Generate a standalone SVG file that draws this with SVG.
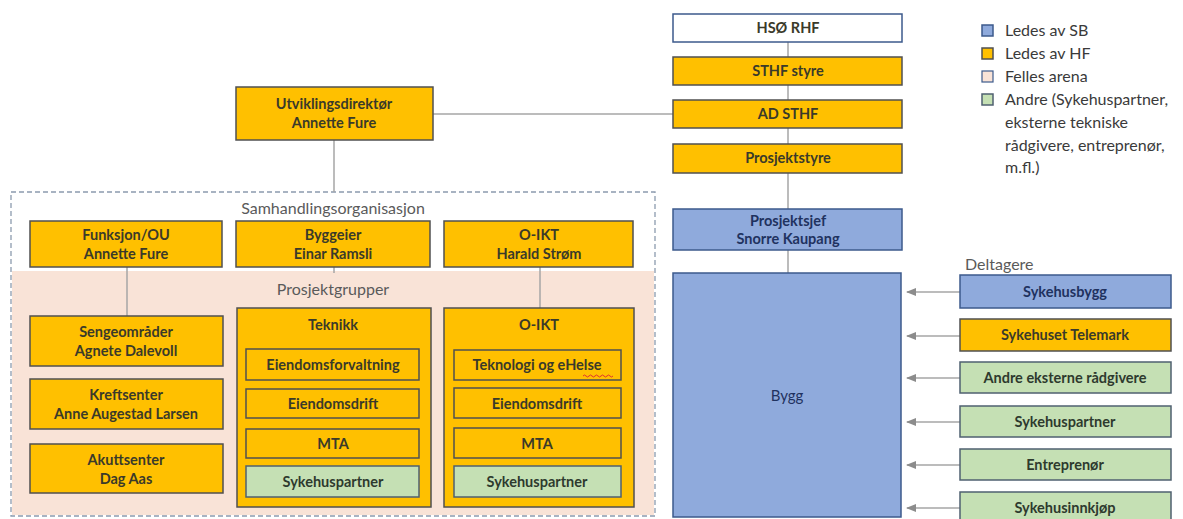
<svg xmlns="http://www.w3.org/2000/svg" width="1183" height="519" viewBox="0 0 1183 519">
<style>
.o{fill:#FFC000;stroke:#505050;stroke-width:1.5}
.b{fill:#8FAADC;stroke:#3C5A8C;stroke-width:1.5}
.g{fill:#C5E0B4;stroke:#4F6070;stroke-width:1.5}
.w{fill:#FFFFFF;stroke:#3C5A8C;stroke-width:1.5}
.t{font-family:Lato,"Liberation Sans",sans-serif;font-size:14.5px;font-weight:bold;fill:#3A3A2A;text-anchor:middle}
.tb{font-family:Lato,"Liberation Sans",sans-serif;font-size:14.5px;font-weight:bold;fill:#1F3260;text-anchor:middle}
.tg{font-family:Lato,"Liberation Sans",sans-serif;font-size:14.5px;font-weight:bold;fill:#2E3A2E;text-anchor:middle}
.lbl{font-family:Lato,"Liberation Sans",sans-serif;font-size:16px;fill:#5A5A5A}
.leg{font-family:Lato,"Liberation Sans",sans-serif;font-size:16px;fill:#3A3A3A}
.c{stroke:#A6A6A6;stroke-width:1.5;fill:none}
</style>
<defs>
<marker id="ah" markerWidth="10" markerHeight="8" refX="9" refY="4" orient="auto" markerUnits="userSpaceOnUse">
<path d="M0,0 L10,4 L0,8 Z" fill="#8C8C8C"/>
</marker>
</defs>

<g id="areas">
<rect x="11" y="192" width="644" height="324" fill="#FFFFFF" stroke="#8C9BAE" stroke-width="1.3" stroke-dasharray="5,3"/>
<rect x="12" y="271" width="642" height="244" fill="#F9E3D7"/>
<text class="lbl" x="333" y="214" text-anchor="middle">Samhandlingsorganisasjon</text>
<text class="lbl" x="333" y="295" text-anchor="middle">Prosjektgrupper</text>
<text class="lbl" x="965" y="270">Deltagere</text>
</g>

<g id="connectors">
<line class="c" x1="788" y1="42" x2="788" y2="273"/>
<line class="c" x1="433" y1="114" x2="673" y2="114"/>
<line class="c" x1="334" y1="140" x2="334" y2="192"/>
<line class="c" x1="127" y1="267" x2="127" y2="316"/>
<line class="c" x1="334" y1="267" x2="334" y2="273"/>
<line class="c" x1="540" y1="267" x2="540" y2="308"/>
<line class="c" x1="960" y1="292" x2="907" y2="292" marker-end="url(#ah)"/>
<line class="c" x1="960" y1="336" x2="907" y2="336" marker-end="url(#ah)"/>
<line class="c" x1="960" y1="378" x2="907" y2="378" marker-end="url(#ah)"/>
<line class="c" x1="960" y1="422" x2="907" y2="422" marker-end="url(#ah)"/>
<line class="c" x1="960" y1="465" x2="907" y2="465" marker-end="url(#ah)"/>
<line class="c" x1="960" y1="508" x2="907" y2="508" marker-end="url(#ah)"/>
</g>

<g id="hso"><rect class="w" x="673" y="14" width="229" height="28"/><text class="t" x="788" y="33">HSØ RHF</text></g>
<g id="sthf-styre"><rect class="o" x="673" y="57" width="229" height="28"/><text class="t" x="788" y="76">STHF styre</text></g>
<g id="ad-sthf"><rect class="o" x="673" y="100" width="229" height="28"/><text class="t" x="788" y="119">AD STHF</text></g>
<g id="prosjektstyre"><rect class="o" x="673" y="144" width="229" height="29"/><text class="t" x="788" y="163">Prosjektstyre</text></g>
<g id="prosjektsjef"><rect class="b" x="673" y="209" width="229" height="41"/><text class="tb" x="788" y="226">Prosjektsjef</text><text class="tb" x="788" y="244">Snorre Kaupang</text></g>
<g id="bygg"><rect class="b" x="673" y="273" width="228" height="244"/><text class="tb" x="787" y="401" style="font-weight:normal;font-size:15px">Bygg</text></g>

<g id="utvikling"><rect class="o" x="236" y="87" width="197" height="53"/><text class="t" x="334" y="109">Utviklingsdirektør</text><text class="t" x="334" y="128">Annette Fure</text></g>

<g id="funksjon"><rect class="o" x="30" y="221" width="192" height="46"/><text class="t" x="126" y="240">Funksjon/OU</text><text class="t" x="126" y="259">Annette Fure</text></g>
<g id="byggeier"><rect class="o" x="236" y="221" width="194" height="46"/><text class="t" x="333" y="240">Byggeier</text><text class="t" x="333" y="259">Einar Ramsli</text></g>
<g id="oikt-top"><rect class="o" x="444" y="221" width="189" height="46"/><text class="t" x="539" y="240">O-IKT</text><text class="t" x="539" y="259">Harald Strøm</text></g>

<g id="sengeomrader"><rect class="o" x="30" y="316" width="193" height="50"/><text class="t" x="126" y="337">Sengeområder</text><text class="t" x="126" y="356">Agnete Dalevoll</text></g>
<g id="kreftsenter"><rect class="o" x="30" y="379" width="193" height="50"/><text class="t" x="126" y="400">Kreftsenter</text><text class="t" x="126" y="419">Anne Augestad Larsen</text></g>
<g id="akuttsenter"><rect class="o" x="30" y="444" width="193" height="49"/><text class="t" x="126" y="465">Akuttsenter</text><text class="t" x="126" y="484">Dag Aas</text></g>

<g id="teknikk">
<rect class="o" x="237" y="308" width="194" height="199"/>
<text class="t" x="333" y="330">Teknikk</text>
<rect class="o" x="246" y="349" width="173" height="31"/><text class="t" x="333" y="370">Eiendomsforvaltning</text>
<rect class="o" x="246" y="389" width="173" height="29"/><text class="t" x="333" y="409">Eiendomsdrift</text>
<rect class="o" x="246" y="429" width="173" height="29"/><text class="t" x="333" y="449">MTA</text>
<rect class="g" x="246" y="466" width="173" height="31"/><text class="tg" x="333" y="487">Sykehuspartner</text>
</g>

<g id="oikt">
<rect class="o" x="444" y="308" width="190" height="199"/>
<text class="t" x="539" y="330">O-IKT</text>
<rect class="o" x="454" y="350" width="167" height="30"/><text class="t" x="537" y="370">Teknologi og eHelse</text>
<path d="M583,376 q1.5,-2 3,0 t3,0 t3,0 t3,0 t3,0 t3,0 t3,0 t3,0 t3,0 t3,0" fill="none" stroke="#E03030" stroke-width="1"/>
<rect class="o" x="454" y="388" width="167" height="30"/><text class="t" x="537" y="409">Eiendomsdrift</text>
<rect class="o" x="454" y="428" width="167" height="30"/><text class="t" x="537" y="449">MTA</text>
<rect class="g" x="454" y="466" width="167" height="31"/><text class="tg" x="537" y="487">Sykehuspartner</text>
</g>

<g id="sykehusbygg"><rect class="b" x="960" y="275" width="211" height="33"/><text class="tb" x="1065" y="297">Sykehusbygg</text></g>
<g id="sykehuset-telemark"><rect class="o" x="960" y="319" width="211" height="32"/><text class="t" x="1065" y="340">Sykehuset Telemark</text></g>
<g id="andre-eksterne"><rect class="g" x="960" y="362" width="211" height="31"/><text class="tg" x="1065" y="383">Andre eksterne rådgivere</text></g>
<g id="sykehuspartner-r"><rect class="g" x="960" y="406" width="211" height="31"/><text class="tg" x="1065" y="427">Sykehuspartner</text></g>
<g id="entreprenor"><rect class="g" x="960" y="449" width="211" height="31"/><text class="tg" x="1065" y="470">Entreprenør</text></g>
<g id="sykehusinnkjop"><rect class="g" x="960" y="492" width="211" height="34"/><text class="tg" x="1065" y="513">Sykehusinnkjøp</text></g>

<g id="legend">
<rect class="b" x="982" y="25" width="11" height="11" stroke-width="1.2"/>
<rect class="o" x="982" y="48" width="11" height="11" stroke-width="1.2"/>
<rect fill="#F9E3D7" stroke="#3C5A8C" stroke-width="1.2" x="982" y="71" width="11" height="11"/>
<rect class="g" x="982" y="94" width="11" height="11" stroke-width="1.2" stroke="#3C5A8C"/>
<text class="leg" x="1005" y="36">Ledes av SB</text>
<text class="leg" x="1005" y="59">Ledes av HF</text>
<text class="leg" x="1005" y="82">Felles arena</text>
<text class="leg" x="1005" y="105">Andre (Sykehuspartner,</text>
<text class="leg" x="1005" y="128">eksterne tekniske</text>
<text class="leg" x="1005" y="151">rådgivere, entreprenør,</text>
<text class="leg" x="1005" y="173">m.fl.)</text>
</g>
</svg>
